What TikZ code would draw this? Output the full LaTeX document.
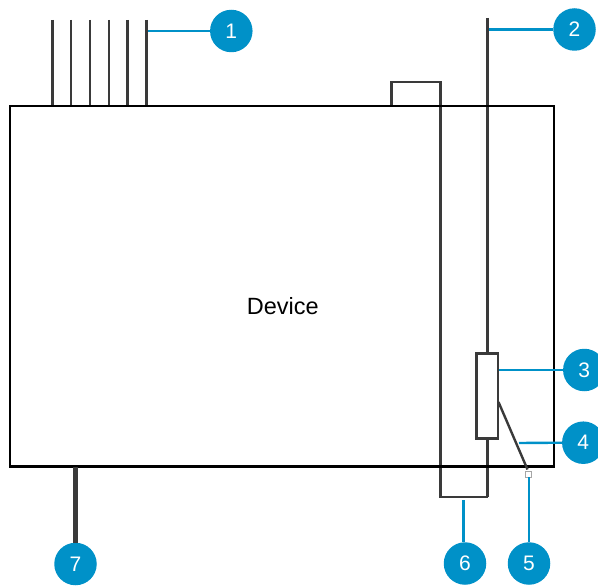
\documentclass[tikz,border=0pt]{standalone}
\usepackage{fontspec}
\setmainfont{Liberation Sans}
\definecolor{calloutblue}{HTML}{0091C8}
\definecolor{wire}{HTML}{3A3A3A}
\tikzset{
  x=1pt,y=-1pt,
  badge/.style={circle,fill=calloutblue,text=white,minimum size=42.5pt,inner sep=0pt,font=\fontsize{21}{24}\selectfont},
  leader/.style={draw=calloutblue,line width=2.4pt},
  wireline/.style={draw=wire,line width=2.5pt},
  housing/.style={draw=black,line width=2.2pt},
}
\begin{document}
\begin{tikzpicture}
\useasboundingbox (0,0) rectangle (598,586);
% pins
\foreach \n/\x in {a/52.3,b/71.1,c/90,d/108.8,e/127.7,f/146.5}{
  \coordinate (pin\n top) at (\x,20);
  \coordinate (pin\n bot) at (\x,106);
  \draw[wireline] (pin\n top) -- (pin\n bot);
}
% antenna, loop
\coordinate (anttop) at (487.5,18);
\coordinate (antbot) at (487.5,497);
\coordinate (loopa) at (391.7,106);
\coordinate (loopb) at (391.7,82);
\coordinate (loopc) at (440.3,82);
\coordinate (loopd) at (440.3,497);
\draw[wireline] (anttop) -- (487.5,353.5);
\draw[wireline] (487.5,438.5) -- (antbot);
\draw[wireline,line join=miter] (loopa) -- (loopb) -- (loopc) -- (loopd) -- (antbot);
% housing
\draw[housing] (10,106) rectangle (553.7,466.5);
\node[font=\fontsize{23.5}{28}\selectfont] (device) at (282.7,306.5) {Device};
% component 3
\node[draw=wire,line width=2.5pt,fill=white,minimum width=21.5pt,minimum height=85pt,inner sep=0pt] (comp) at (487.3,396) {};
% switch
\coordinate (swa) at (498.5,402);
\coordinate (swb) at (527.5,469.5);
\draw[draw=wire,line width=2.4pt] (swa) -- (swb);
\node[draw=gray!70,fill=white,line width=1.5pt,minimum size=6pt,inner sep=0pt] (pivot) at (528.7,474.5) {};
% cable 7
\coordinate (cable) at (75.5,467);
% badges
\node[badge] (b1) at (231.3,31) {1};
\node[badge] (b2) at (574.5,29.5) {2};
\node[badge] (b3) at (584.3,370) {3};
\node[badge] (b4) at (583.3,442.7) {4};
\node[badge] (b5) at (529,563.5) {5};
\node[badge] (b6) at (465,563.5) {6};
\node[badge] (b7) at (75.5,564) {7};
\draw[draw=wire,line width=5.8pt] (cable) -- (b7.north);
% leaders
\coordinate (l1) at (147.5,31);
\coordinate (l2) at (488.7,29.5);
\coordinate (l3) at (499,370);
\coordinate (l4) at (519,443);
\coordinate (l5) at (529,477);
\coordinate (l6) at (463.5,500);
\draw[leader] (l1) -- (b1.west);
\draw[leader] (l2) -- (b2.west);
\draw[leader] (l3) -- (b3.west);
\draw[leader] (l4) -- (b4.west);
\draw[leader] (l5) -- (b5.north);
\draw[leader] (l6) -- (l6 |- b6.north);
\end{tikzpicture}
\end{document}
